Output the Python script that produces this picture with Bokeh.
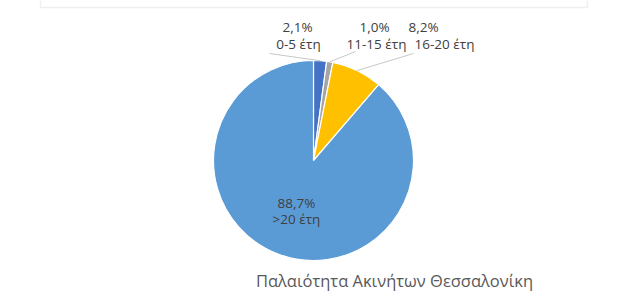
import math
from bokeh.plotting import figure
from bokeh.models import ColumnDataSource
from bokeh.core.properties import value
from bokeh.embed import file_html
from bokeh.resources import INLINE

# ---- data ----
categories = ["0-5 έτη", "11-15 έτη", "16-20 έτη", ">20 έτη"]
shares = [2.1, 1.0, 8.2, 88.7]
colors = ["#4472C4", "#A5A5A5", "#FFC000", "#5B9BD5"]
title_text = "Παλαιότητα Ακινήτων Θεσσαλονίκη"

# ---- layout (pixel positions, y measured from top) ----
W, H = 623, 307
cx, cy, R = 313, 160, 100
pct_pos = [(297, 26.5), (374, 26.5), (423, 26.5), (296, 202)]
name_pos = [(298, 43), (376, 43), (444, 43), (296, 218)]
leader_start = [(269, 53), (355, 51), (413, 53), None]

p = figure(width=W, height=H, x_range=(0, W), y_range=(0, H),
           output_backend="svg", toolbar_location=None,
           min_border=0, outline_line_color=None)
p.axis.visible = False
p.grid.visible = False
p.background_fill_color = "white"
p.border_fill_color = "white"

# frame
p.line(x=[40, 40, 587, 587], y=[H + 5, H - 7, H - 7, H + 5],
       line_color="#F0F0F0", line_width=1.5)

# wedges
total = sum(shares)
starts, ends = [], []
acc = 0.0
for v in shares:
    a0 = math.pi / 2 - 2 * math.pi * acc / total
    acc += v
    a1 = math.pi / 2 - 2 * math.pi * acc / total
    starts.append(a0)
    ends.append(a1)

src = ColumnDataSource(dict(start=starts, end=ends, color=colors))
p.wedge(x=cx, y=H - cy, radius=R, start_angle="start", end_angle="end",
        direction="clock", fill_color="color", line_color="white",
        line_width=1.2, source=src)

# leader lines to slice mid-points on the rim
lx, ly = [], []
for i, s in enumerate(leader_start):
    if s is None:
        continue
    mid = (starts[i] + ends[i]) / 2
    ex = cx + R * math.cos(mid)
    ey = (H - cy) + R * math.sin(mid)
    lx.append([s[0], ex])
    ly.append([H - s[1], ey])
p.multi_line(xs=lx, ys=ly, line_color="#C8C8C8", line_width=1)

# labels
pct_labels = [f"{v:.1f}".replace(".", ",") + "%" for v in shares]
lab = ColumnDataSource(dict(
    px=[q[0] for q in pct_pos], py=[H - q[1] for q in pct_pos], pt=pct_labels,
    nx=[q[0] for q in name_pos], ny=[H - q[1] for q in name_pos], nt=categories))
for xk, yk, tk in (("px", "py", "pt"), ("nx", "ny", "nt")):
    p.text(x=xk, y=yk, text=tk, source=lab, text_align="center",
           text_baseline="middle", text_font=value("Open Sans"),
           text_font_size="13.5px", text_color="#404040")

# chart title
p.text(x=[394], y=[H - 280], text=[title_text], text_align="center",
       text_baseline="middle", text_font=value("Open Sans"),
       text_font_size="16.5px", text_color="#595959")

open("out.html", "w").write(file_html(p, INLINE))
